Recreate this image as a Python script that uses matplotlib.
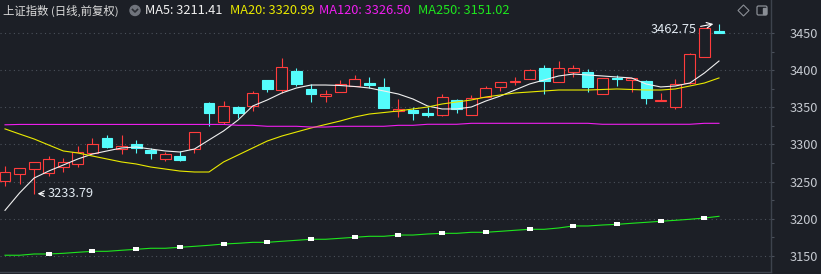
import matplotlib.pyplot as plt
from matplotlib.patches import Rectangle, Circle, Polygon, FancyBboxPatch
import numpy as np

plt.rcParams['font.family'] = ['Noto Sans CJK SC', 'DejaVu Sans']

# datos de las velas (apertura, maximo, minimo, cierre)
opens = [3251.3, 3259.9, 3267.4, 3261.3, 3270.1, 3273.4, 3289.0, 3308.7, 3293.9, 3300.7,
         3292.6, 3280.9, 3284.5, 3293.9, 3355.8, 3330.7, 3350.4, 3352.2, 3386.8, 3373.7,
         3398.9, 3374.7, 3365.6, 3371.0, 3379.1, 3382.7, 3377.4, 3344.7, 3346.4, 3342.8,
         3339.7, 3359.9, 3340.1, 3363.5, 3377.8, 3384.1, 3388.5, 3402.9, 3384.5, 3397.9,
         3397.9, 3368.3, 3389.1, 3386.4, 3385.4, 3358.9, 3350.0, 3382.3, 3418.1, 3453.1]
highs = [3271.1, 3268.3, 3276.5, 3284.5, 3281.8, 3298.0, 3308.7, 3312.8, 3312.8, 3306.1,
         3295.7, 3290.3, 3291.7, 3317.0, 3357.6, 3358.5, 3351.8, 3372.0, 3387.0, 3416.4,
         3402.9, 3381.4, 3373.3, 3386.8, 3393.5, 3390.8, 3389.5, 3360.8, 3350.9, 3350.9,
         3368.3, 3361.6, 3366.2, 3378.7, 3384.0, 3390.4, 3401.6, 3407.0, 3412.3, 3407.0,
         3401.6, 3389.8, 3393.5, 3389.7, 3386.8, 3369.3, 3388.1, 3423.1, 3456.5, 3462.75]
lows = [3244.2, 3246.9, 3233.79, 3258.0, 3263.0, 3270.1, 3288.5, 3294.9, 3286.8, 3289.0,
        3280.9, 3277.8, 3277.8, 3288.6, 3325.3, 3327.6, 3336.1, 3345.5, 3371.0, 3368.9,
        3378.7, 3357.6, 3357.6, 3370.8, 3379.0, 3376.4, 3349.0, 3337.4, 3333.0, 3337.4,
        3338.3, 3342.8, 3339.8, 3363.3, 3372.4, 3380.0, 3388.3, 3367.5, 3384.3, 3390.4,
        3370.6, 3368.0, 3378.3, 3370.6, 3354.9, 3358.9, 3348.2, 3382.0, 3418.0, 3450.2]
closes = [3263.0, 3268.0, 3276.1, 3280.1, 3276.1, 3290.3, 3300.7, 3297.0, 3298.0, 3295.7,
          3289.0, 3286.8, 3279.1, 3316.8, 3342.8, 3351.8, 3342.8, 3369.3, 3375.1, 3404.3,
          3381.4, 3368.3, 3368.3, 3381.4, 3388.1, 3380.0, 3349.5, 3347.4, 3342.0, 3340.1,
          3363.9, 3348.2, 3362.2, 3375.6, 3383.7, 3385.0, 3399.8, 3385.4, 3402.5, 3402.5,
          3377.8, 3389.5, 3388.1, 3389.5, 3363.0, 3359.9, 3381.4, 3421.3, 3456.3, 3450.4]

# medias moviles
ma5 = [3211.41, 3234.8, 3254.9, 3264.3, 3272.4, 3280.5, 3287.2, 3291.3, 3295.3, 3296.6,
       3293.9, 3291.3, 3289.9, 3293.9, 3306.1, 3318.2, 3333.0, 3351.8, 3359.9, 3369.3,
       3376.0, 3380.0, 3380.0, 3379.4, 3378.0, 3376.0, 3372.0, 3367.9, 3361.2, 3351.8,
       3347.8, 3347.8, 3350.4, 3358.5, 3365.2, 3373.3, 3381.4, 3386.8, 3392.2, 3394.8,
       3393.5, 3392.2, 3390.8, 3389.5, 3381.4, 3377.4, 3378.7, 3382.7, 3396.2, 3412.3]
ma20 = [3320.99, 3314.1, 3307.4, 3299.3, 3291.3, 3288.6, 3284.5, 3280.5, 3276.5, 3273.8,
        3269.7, 3267.0, 3264.3, 3263.0, 3263.0, 3276.5, 3285.9, 3295.3, 3304.7, 3311.4,
        3316.8, 3322.2, 3326.9, 3331.6, 3337.0, 3341.0, 3343.0, 3345.1, 3347.8, 3350.4,
        3354.5, 3357.2, 3359.9, 3363.9, 3366.6, 3369.3, 3370.6, 3372.0, 3373.3, 3373.3,
        3373.3, 3374.0, 3374.7, 3374.0, 3373.3, 3373.3, 3374.7, 3378.7, 3382.7, 3389.5]
ma120 = [3326.50, 3327.0, 3327.0, 3327.0, 3327.0, 3327.0, 3327.0, 3327.0, 3327.0, 3327.0,
         3327.0, 3327.0, 3327.0, 3327.0, 3327.0, 3327.0, 3325.8, 3325.8, 3324.5, 3324.5,
         3324.5, 3323.5, 3323.5, 3324.5, 3324.5, 3324.5, 3324.5, 3325.8, 3325.8, 3327.2,
         3327.2, 3327.2, 3328.5, 3328.5, 3328.5, 3328.5, 3328.5, 3328.5, 3328.5, 3328.5,
         3328.5, 3327.2, 3327.2, 3327.2, 3327.2, 3327.2, 3327.2, 3327.2, 3328.5, 3328.5]
ma250 = [3151.02, 3151.0, 3152.7, 3152.7, 3153.6, 3155.0, 3156.3, 3156.3, 3157.7, 3159.0,
         3160.4, 3160.4, 3161.7, 3163.0, 3164.4, 3166.1, 3167.1, 3168.4, 3168.4, 3169.8,
         3171.1, 3172.5, 3172.5, 3173.8, 3175.2, 3176.5, 3176.5, 3178.2, 3178.2, 3179.6,
         3180.5, 3180.5, 3181.9, 3181.9, 3183.2, 3184.6, 3185.9, 3185.9, 3187.7, 3190.4,
         3190.4, 3191.7, 3192.6, 3194.0, 3195.3, 3196.7, 3198.0, 3199.4, 3201.1, 3203.4]
marcas_idx = [3, 6, 9, 12, 15, 18, 21, 24, 27, 30, 33, 36, 39, 42, 45, 48]

y_ticks = [3150, 3200, 3250, 3300, 3350, 3400, 3450]

titulo = "上证指数 (日线,前复权)"
leyendas = [("MA5", ma5, "#f0f0f0", 145), ("MA20", ma20, "#eaea00", 230),
            ("MA120", ma120, "#f01ef0", 319), ("MA250", ma250, "#1ee61e", 418)]

FONDO = "#1c1f26"
ROJO = "#ff3c3c"
CIAN = "#54fcfc"


def dibujar_velas(ax):
    w = 0.75
    for i in range(len(opens)):
        o, h, l, c = opens[i], highs[i], lows[i], closes[i]
        sube = c >= o
        col = ROJO if sube else CIAN
        ax.vlines(i, l, h, color=col, lw=0.8, zorder=2)
        alto = max(abs(c - o), 0.9)
        y0 = min(o, c)
        if sube:
            ax.add_patch(Rectangle((i - w / 2, y0), w, alto, facecolor=FONDO,
                                   edgecolor=col, lw=0.8, zorder=3))
        else:
            ax.add_patch(Rectangle((i - w / 2, y0), w, alto, facecolor=col,
                                   edgecolor=col, lw=0.8, zorder=3))


fig = plt.figure(figsize=(8.21, 2.74), dpi=100, facecolor=FONDO)
ax = fig.add_axes([0, 2 / 274, 771 / 821, 272 / 274])
ax.set_facecolor(FONDO)

dibujar_velas(ax)
x = np.arange(len(opens))
for nombre, serie, color, _ in leyendas:
    ax.plot(x, serie, color=color, lw=0.8, zorder=4)

# marcas blancas sobre MA250
caja = [(-1, -0.75), (1, -0.75), (1, 0.75), (-1, 0.75)]
ax.plot(marcas_idx, [ma250[i] for i in marcas_idx], ls='none', marker=caja,
        ms=3.8, mew=0, color="white", zorder=5)

# etiquetas de minimo y maximo
i_min = int(np.argmin(lows))
i_max = int(np.argmax(highs))
ax.annotate("", xy=(i_min + 0.05, lows[i_min]), xytext=(i_min + 0.85, lows[i_min]),
            arrowprops=dict(arrowstyle="->", color="white", lw=0.8), zorder=6)
ax.text(i_min + 0.9, lows[i_min], f"{lows[i_min]:.2f}", color="#e2eaf2",
        fontsize=9.2, ha="left", va="center", zorder=6)
ax.annotate("", xy=(i_max - 0.2, highs[i_max]), xytext=(i_max - 1.45, highs[i_max] - 4.5),
            arrowprops=dict(arrowstyle="->", color="white", lw=0.8), zorder=6)
ax.text(i_max - 1.55, highs[i_max] - 7.5, f"{highs[i_max]:.2f}", color="#e2eaf2",
        fontsize=9.2, ha="right", va="center", zorder=6)

ax.set_xlim(-0.343, 52.57)
ax.set_ylim(3128.47, 3494.39)
ax.set_yticks(y_ticks)
ax.set_yticks([v + 25 for v in y_ticks[:-1]], minor=True)
ax.set_xticks([])
ax.yaxis.tick_right()
ax.tick_params(axis='y', which='both', length=2.2, width=0.8, color="#4a505a",
               labelcolor="#c5c9d0", labelsize=9.2, pad=11)
ax.grid(axis='y', which='major', color="#4b515b", ls=(0, (1, 3)), lw=0.8)
for lado in ['top', 'left']:
    ax.spines[lado].set_visible(False)
for lado in ['right', 'bottom']:
    ax.spines[lado].set_color("#3d434d")
    ax.spines[lado].set_linewidth(1.0)

# capa superior para el titulo y los iconos (coordenadas en pixeles)
cap = fig.add_axes([0, 0, 1, 1])
cap.set_xlim(0, 821)
cap.set_ylim(274, 0)
cap.axis('off')
cap.patch.set_alpha(0)

cap.text(3, 10.5, titulo, color="#dcdcdc", fontsize=8.2, ha="left", va="center")
cap.add_patch(Circle((135, 10.5), 5, color="#70747c", zorder=3))
cap.plot([132.5, 135, 137.5], [9.5, 12, 9.5], color="#2a2d33", lw=1.2, zorder=4)
for nombre, serie, color, xp in leyendas:
    cap.text(xp, 10.5, f"{nombre}: {serie[0]:.2f}", color=color, fontsize=9.2,
             ha="left", va="center")

cap.add_patch(Polygon([(743.5, 5), (749, 10.5), (743.5, 16), (738, 10.5)], closed=True,
                      fill=False, edgecolor="#8a8e95", lw=0.8))
cap.add_patch(FancyBboxPatch((757, 6), 10, 9, boxstyle="round,pad=0,rounding_size=1.5",
                             fill=False, edgecolor="#8a8e95", lw=0.9))
cap.add_patch(Rectangle((762.5, 7.5), 3, 6, color="#8a8e95"))

fig.savefig("out.png", dpi=100, facecolor=FONDO)
